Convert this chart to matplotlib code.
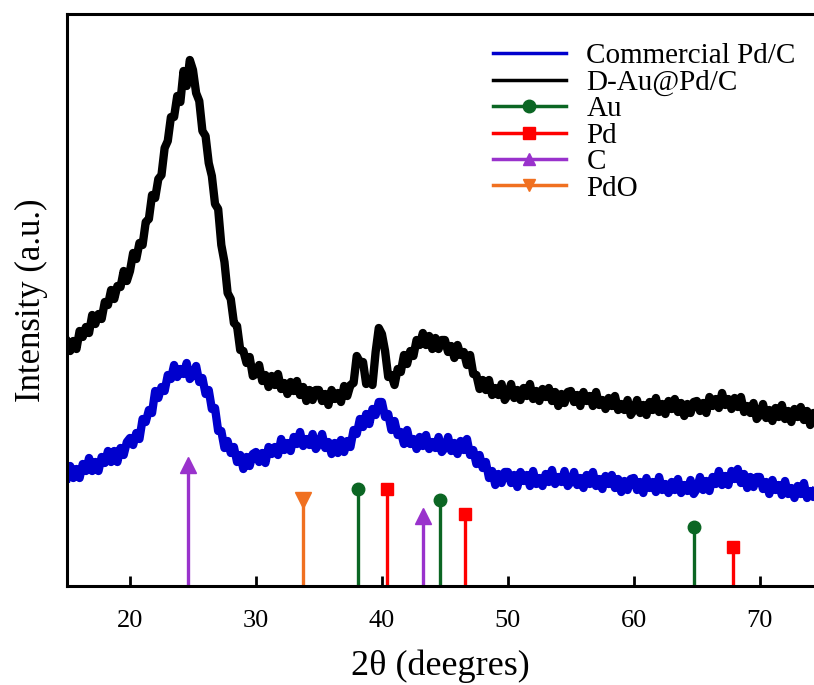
import numpy as np
import matplotlib
matplotlib.use("Agg")
import matplotlib.pyplot as plt
from matplotlib.lines import Line2D

plt.rcParams["font.family"] = ["Liberation Serif", "DejaVu Serif"]

# 2theta scan grid (degrees), 0.25 deg step
two_theta = np.arange(15.0, 74.51, 0.25)

# intensities (a.u.)
d_au_pd_c = [
    244, 235, 245, 237, 255, 249, 259, 253, 271, 262, 272, 267, 284, 281, 296, 287, 300, 299, 315, 305,
    315, 333, 327, 343, 341, 364, 367, 391, 388, 407, 411, 438, 445, 469, 469, 490, 484, 515, 500, 526,
    516, 493, 485, 455, 450, 423, 410, 382, 377, 341, 324, 293, 287, 263, 260, 236, 235, 223, 229, 210,
    212, 221, 205, 211, 199, 210, 201, 212, 197, 203, 192, 204, 195, 205, 191, 199, 185, 196, 186, 196,
    196, 185, 192, 181, 196, 187, 193, 184, 200, 190, 201, 203, 230, 224, 224, 202, 205, 201, 234, 258,
    252, 235, 209, 211, 201, 217, 214, 231, 222, 235, 230, 246, 241, 253, 241, 250, 237, 248, 237, 246,
    246, 234, 240, 228, 241, 231, 234, 221, 231, 212, 211, 197, 206, 196, 206, 191, 198, 191, 202, 186,
    191, 202, 188, 196, 186, 198, 190, 202, 187, 195, 185, 197, 189, 198, 185, 194, 180, 192, 183, 194,
    195, 184, 191, 180, 194, 185, 190, 180, 194, 181, 186, 177, 188, 180, 190, 176, 182, 176, 186, 171,
    176, 186, 173, 181, 171, 184, 176, 188, 174, 182, 172, 185, 177, 187, 174, 183, 170, 182, 173, 184,
    185, 175, 183, 173, 189, 180, 187, 178, 193, 181, 187, 177, 188, 179, 189, 174, 180, 173, 183, 167,
    171, 182, 168, 176, 165, 178, 169, 181, 167, 175, 164, 177, 169, 179, 166, 175, 161, 173, 164,
]

commercial_pd_c = [
    108, 120, 108, 117, 108, 122, 115, 128, 115, 124, 115, 129, 123, 135, 124, 135, 124, 138, 131, 144,
    148, 141, 153, 147, 167, 164, 176, 173, 195, 188, 199, 195, 211, 207, 221, 209, 217, 212, 223, 207,
    211, 220, 204, 208, 192, 196, 177, 178, 155, 155, 138, 145, 133, 139, 124, 131, 117, 129, 120, 132,
    134, 124, 133, 123, 139, 132, 139, 131, 147, 136, 143, 135, 149, 142, 154, 140, 147, 141, 152, 137,
    142, 152, 138, 144, 132, 143, 133, 146, 134, 145, 139, 156, 152, 167, 159, 172, 162, 177, 171, 184,
    184, 169, 172, 156, 165, 151, 154, 142, 156, 142, 147, 137, 149, 140, 151, 137, 144, 138, 149, 134,
    138, 149, 135, 143, 132, 145, 136, 147, 131, 136, 122, 131, 118, 124, 108, 115, 101, 112, 103, 114,
    114, 103, 111, 99, 114, 105, 111, 100, 115, 102, 108, 100, 112, 104, 116, 102, 109, 104, 115, 100,
    104, 114, 101, 108, 98, 111, 102, 114, 100, 107, 97, 110, 102, 111, 98, 107, 94, 105, 96, 107,
    108, 96, 104, 93, 108, 98, 104, 94, 109, 96, 102, 93, 104, 96, 107, 93, 101, 95, 106, 92,
    97, 109, 96, 105, 95, 109, 102, 115, 101, 110, 101, 115, 107, 117, 103, 112, 98, 109, 99, 109,
    109, 97, 104, 92, 106, 96, 101, 91, 105, 92, 98, 88, 100, 92, 103, 88, 95, 89, 100,
]

# reference peak positions and stick heights
au_pos = [38.1, 44.6, 64.8]
au_h = [97, 86, 59]
pd_pos = [40.4, 46.6, 67.9]
pd_h = [97, 72, 39]
c_pos = [24.6, 43.3]
c_h = [121, 70]
pdo_pos = [33.7]
pdo_h = [86]

blue = "#0000CD"
green = "#0B6623"
red = "#FF0000"
purple = "#9932CC"
orange = "#F07020"

fig = plt.figure(figsize=(8.14, 6.85), dpi=100)
ax = fig.add_axes([67 / 814, 99 / 685, 747 / 814, 572 / 685])

ax.plot(two_theta, commercial_pd_c, color=blue, lw=6)
ax.plot(two_theta, d_au_pd_c, color="black", lw=6)

# reference sticks
sticks = [
    (au_pos, au_h, green, "o", 9),
    (pd_pos, pd_h, red, "s", 8.5),
    (c_pos, c_h, purple, "^", 11),
    (pdo_pos, pdo_h, orange, "v", 11),
]
for pos, h, col, mk, ms in sticks:
    ax.vlines(pos, 0, h, color=col, lw=2.4)
    ax.plot(pos, h, ls="none", marker=mk, color=col, ms=ms)

ax.set_xlim(15, 74.3)
ax.set_ylim(0, 572)
ax.set_xticks([20, 30, 40, 50, 60, 70])
ax.set_yticks([])
ax.tick_params(axis="x", direction="in", length=7, width=2, labelsize=19, pad=17)
for side in ["left", "bottom", "top"]:
    ax.spines[side].set_linewidth(2.2)
ax.spines["right"].set_visible(False)

ax.set_xlabel("2θ (deegres)", fontsize=26, labelpad=13)
ax.set_ylabel("Intensity (a.u.)", fontsize=25, labelpad=14)

handles = [
    Line2D([], [], color=blue, lw=2.5),
    Line2D([], [], color="black", lw=2.5),
    Line2D([], [], color=green, lw=2.5, marker="o", ms=9),
    Line2D([], [], color=red, lw=2.5, marker="s", ms=8.5),
    Line2D([], [], color=purple, lw=2.5, marker="^", ms=9),
    Line2D([], [], color=orange, lw=2.5, marker="v", ms=9),
]
labels = ["Commercial Pd/C", "D-Au@Pd/C", "Au", "Pd", "C", "PdO"]
fig.legend(handles, labels, loc="upper left", bbox_to_anchor=(493 / 814, 1 - 43 / 685),
           frameon=False, fontsize=21, handlelength=2.5, handletextpad=0.7,
           labelspacing=0.0, borderpad=0, borderaxespad=0)

fig.savefig("out.png", dpi=100)
